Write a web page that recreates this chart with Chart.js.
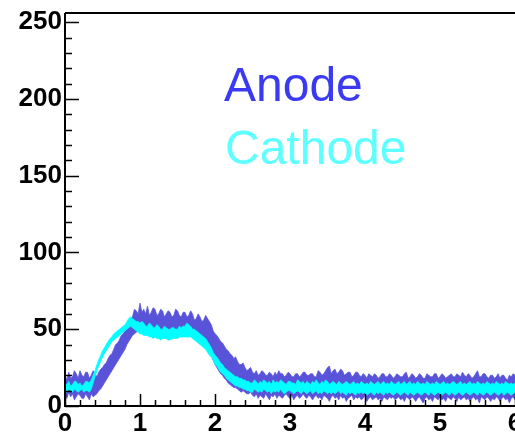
<!DOCTYPE html>
<html>
<head>
<meta charset="utf-8">
<script src="https://cdn.jsdelivr.net/npm/chart.js@4.4.1/dist/chart.umd.min.js"></script>
<style>
  html, body { margin: 0; padding: 0; background: #ffffff; overflow: hidden; }
  #wrap { position: relative; width: 515px; height: 433px; overflow: hidden; }
  canvas { position: absolute; left: 0; top: 0; }
  .tag { position: absolute; font-family: "Liberation Sans", Arial, sans-serif; font-size: 48px; line-height: 48px; white-space: nowrap; }
</style>
</head>
<body>
<div id="wrap">
  <canvas id="c" width="545" height="460"></canvas>
  <div class="tag" id="tagAnode" style="left:224px; top:61px; color:#3a3af2;">Anode</div>
  <div class="tag" id="tagCathode" style="left:225px; top:124px; color:#5effff;">Cathode</div>
</div>
<script>
// Sampling step of the waveforms (time axis units); each row below spans 0.2
const sampleStep = 0.025;

// Anode signal: upper and lower edge of the noisy trace
const anodeHigh = [
  20, 17, 22, 18, 19, 23, 21, 18,
  23, 20, 19, 22, 22, 18, 20, 23,
  21, 19, 22, 24, 25, 27, 28, 31,
  33, 34, 37, 40, 41, 43, 46, 47,
  49, 52, 54, 57, 58, 63, 62, 60,
  67, 61, 63, 60, 65, 59, 61, 64,
  63, 59, 60, 63, 62, 58, 60, 62,
  61, 58, 59, 63, 62, 59, 58, 61,
  61, 58, 59, 62, 60, 56, 57, 60,
  58, 55, 56, 59, 57, 55, 53, 49,
  47, 46, 44, 42, 41, 39, 37, 36,
  34, 33, 31, 32, 29, 27, 27, 28,
  25, 23, 24, 25, 22, 21, 23, 20,
  21, 23, 22, 20, 20, 22, 21, 19,
  22, 20, 23, 21, 21, 19, 20, 22,
  21, 19, 19, 21, 21, 19, 20, 22,
  22, 20, 20, 21, 21, 19, 19, 23,
  22, 20, 21, 23, 25, 26, 21, 23,
  24, 21, 22, 24, 23, 20, 21, 22,
  22, 19, 20, 22, 22, 20, 19, 21,
  20, 18, 21, 20, 19, 21, 20, 18,
  19, 21, 21, 19, 19, 21, 20, 18,
  19, 21, 20, 19, 19, 21, 22, 18,
  19, 21, 20, 18, 19, 21, 20, 18,
  18, 21, 20, 19, 19, 21, 21, 18,
  19, 21, 20, 18, 19, 20, 21, 19,
  19, 21, 20, 19, 22, 20, 19, 21,
  20, 18, 19, 21, 23, 19, 19, 21,
  21, 19, 18, 20, 20, 18, 19, 21,
  18, 20, 20, 18, 17, 20, 19, 21,
  20, 18, 19, 21, 20, 18, 18, 20,
  19, 21, 20, 18, 19, 21, 20, 19
];
const anodeLow = [
  7, 5, 9, 6, 8, 4, 6, 8,
  7, 5, 5, 8, 6, 4, 8, 6,
  7, 8, 10, 11, 13, 15, 17, 19,
  21, 23, 25, 27, 29, 31, 33, 35,
  37, 40, 42, 44, 46, 47, 48, 49,
  49, 49, 49, 48, 48, 49, 49, 48,
  48, 48, 48, 47, 47, 48, 47, 47,
  47, 48, 47, 47, 47, 48, 48, 48,
  48, 48, 48, 48, 47, 46, 45, 44,
  43, 42, 41, 40, 38, 36, 33, 30,
  27, 25, 23, 21, 20, 18, 17, 15,
  14, 13, 12, 12, 11, 10, 9, 10,
  9, 8, 8, 9, 7, 6, 8, 5,
  7, 6, 5, 8, 6, 4, 7, 6,
  8, 5, 7, 6, 5, 7, 8, 6,
  5, 7, 4, 6, 7, 5, 6, 8,
  6, 5, 7, 6, 4, 6, 7, 5,
  6, 4, 7, 6, 5, 3, 6, 7,
  5, 6, 4, 7, 5, 6, 3, 5,
  6, 7, 4, 6, 5, 6, 4, 5,
  7, 3, 5, 6, 4, 5, 6, 4,
  5, 3, 6, 5, 4, 6, 5, 6,
  4, 5, 6, 4, 5, 3, 6, 5,
  4, 6, 5, 3, 5, 6, 4, 2,
  5, 6, 4, 5, 3, 6, 5, 4,
  6, 4, 5, 3, 6, 5, 4, 6,
  5, 3, 6, 4, 5, 6, 4, 5,
  3, 5, 6, 4, 5, 2, 6, 5,
  4, 6, 5, 3, 5, 4, 6, 5,
  3, 5, 6, 4, 5, 2, 5, 6,
  4, 5, 3, 6, 5, 4, 5, 6,
  4, 5, 3, 6, 5, 4, 6, 5
];

// Cathode signal: upper and lower edge of the noisy trace
const cathodeHigh = [
  15, 14, 16, 13, 14, 16, 16, 14,
  15, 13, 14, 16, 16, 15, 17, 20,
  23, 27, 30, 33, 36, 38, 40, 42,
  44, 45, 47, 48, 49, 50, 51, 52,
  53, 55, 57, 58, 57, 56, 55, 55,
  54, 55, 54, 52, 52, 54, 53, 51,
  51, 53, 52, 50, 50, 52, 51, 50,
  50, 51, 51, 50, 50, 52, 51, 52,
  52, 54, 53, 52, 50, 50, 49, 48,
  47, 46, 45, 44, 42, 40, 38, 35,
  33, 32, 30, 28, 27, 25, 24, 23,
  22, 21, 20, 19, 19, 18, 18, 17,
  17, 16, 16, 15, 15, 17, 16, 14,
  16, 15, 17, 16, 15, 16, 14, 17,
  15, 16, 15, 17, 16, 15, 14, 16,
  16, 15, 15, 14, 17, 16, 15, 16,
  14, 16, 15, 14, 16, 15, 17, 15,
  14, 16, 15, 17, 16, 14, 15, 16,
  15, 14, 16, 15, 14, 15, 16, 15,
  14, 15, 16, 14, 15, 14, 16, 15,
  14, 15, 14, 16, 15, 14, 15, 16,
  14, 15, 16, 14, 15, 14, 16, 15,
  14, 15, 16, 14, 15, 16, 14, 15,
  16, 14, 15, 14, 16, 15, 14, 15,
  14, 16, 15, 14, 15, 14, 16, 15,
  14, 15, 16, 14, 15, 14, 15, 16,
  15, 14, 15, 16, 14, 15, 14, 15,
  16, 14, 15, 14, 16, 15, 14, 15,
  14, 16, 15, 14, 15, 14, 16, 15,
  14, 15, 14, 16, 15, 14, 15, 14,
  15, 16, 14, 15, 14, 16, 15, 14,
  15, 14, 16, 15, 14, 15, 14, 15
];
const cathodeLow = [
  10, 9, 11, 10, 9, 11, 10, 9,
  10, 11, 9, 10, 10, 9, 11, 15,
  19, 23, 26, 29, 32, 34, 36, 38,
  40, 42, 43, 44, 45, 46, 47, 48,
  49, 50, 51, 52, 51, 50, 49, 48,
  47, 47, 46, 46, 46, 45, 45, 44,
  45, 44, 44, 43, 44, 44, 44, 43,
  43, 44, 44, 44, 44, 45, 45, 45,
  45, 45, 45, 45, 44, 43, 42, 41,
  40, 39, 38, 37, 35, 33, 32, 30,
  27, 26, 24, 22, 21, 20, 18, 17,
  16, 15, 14, 13, 13, 12, 12, 11,
  11, 10, 10, 9, 9, 11, 10, 9,
  10, 9, 11, 10, 9, 10, 8, 10,
  9, 10, 9, 11, 9, 8, 9, 10,
  10, 9, 8, 9, 10, 9, 8, 10,
  9, 8, 9, 10, 8, 9, 10, 8,
  9, 8, 10, 9, 8, 9, 8, 9,
  8, 9, 10, 8, 9, 8, 7, 9,
  8, 9, 8, 7, 9, 8, 9, 8,
  9, 7, 8, 9, 8, 7, 9, 8,
  9, 8, 7, 9, 8, 9, 8, 7,
  8, 9, 8, 7, 8, 9, 8, 7,
  9, 8, 7, 8, 9, 8, 7, 8,
  9, 8, 7, 9, 8, 7, 8, 9,
  8, 7, 8, 9, 8, 7, 9, 8,
  7, 8, 9, 8, 7, 8, 9, 8,
  7, 8, 9, 8, 7, 9, 8, 7,
  8, 9, 8, 7, 8, 9, 8, 7,
  8, 9, 7, 8, 9, 8, 7, 8,
  9, 8, 7, 8, 9, 8, 7, 8,
  9, 8, 7, 8, 8, 9, 7, 8
];

// Axis labels
const yTickValues = [0, 50, 100, 150, 200, 250];
const xTickValues = [0, 1, 2, 3, 4, 5, 6];

const anodeColor = '#5953d9';
const cathodeColor = '#00ffff';

function toPoints(values) {
  return values.map((v, i) => ({ x: +(i * sampleStep).toFixed(3), y: v }));
}

function band(values, color, fillTarget) {
  return {
    data: toPoints(values),
    borderColor: color,
    backgroundColor: color,
    borderWidth: 0.8,
    pointRadius: 0,
    tension: 0,
    fill: fillTarget
  };
}

// ROOT-style frame with inward major/minor tick marks
const framePlugin = {
  id: 'frame',
  afterDraw(chart) {
    const { ctx, chartArea: a, scales } = chart;
    const xs = scales.x, ys = scales.y;
    ctx.save();
    ctx.strokeStyle = '#000000';
    ctx.lineWidth = 1.5;
    ctx.beginPath();
    for (let k = 0; k <= 32; k++) {
      const v = k * 0.2;
      if (v > xs.max) break;
      const px = Math.round(xs.getPixelForValue(v)) + 0.5;
      const len = (k % 5 === 0) ? 12 : 6;
      ctx.moveTo(px, a.bottom);
      ctx.lineTo(px, a.bottom - len);
    }
    for (let k = 0; k <= 25; k++) {
      const v = k * 10;
      const py = Math.round(ys.getPixelForValue(v)) + 0.5;
      const len = (k % 5 === 0) ? 14 : 7;
      ctx.moveTo(a.left, py);
      ctx.lineTo(a.left + len, py);
    }
    ctx.stroke();
    ctx.lineWidth = 2;
    ctx.beginPath();
    ctx.moveTo(a.left, a.top);
    ctx.lineTo(a.right, a.top);
    ctx.moveTo(a.left, a.top);
    ctx.lineTo(a.left, a.bottom);
    ctx.lineTo(a.right, a.bottom);
    ctx.stroke();
    ctx.restore();
  }
};

const tickFont = { family: '"Liberation Sans", Arial, sans-serif', size: 26, weight: 'bold' };

new Chart(document.getElementById('c'), {
  type: 'line',
  data: {
    datasets: [
      band(cathodeLow, cathodeColor, false),
      band(cathodeHigh, cathodeColor, '-1'),
      band(anodeLow, anodeColor, false),
      band(anodeHigh, anodeColor, '-1')
    ]
  },
  options: {
    responsive: false,
    animation: false,
    events: [],
    layout: { padding: { top: 13, right: 0, left: 0, bottom: 0 } },
    plugins: { legend: { display: false }, tooltip: { enabled: false } },
    scales: {
      x: {
        type: 'linear',
        min: 0,
        max: 6.4,
        grid: { display: false, drawTicks: false },
        border: { display: false },
        afterBuildTicks: (s) => { s.ticks = xTickValues.map(v => ({ value: v })); },
        afterFit: (s) => { s.height = 54; s.paddingLeft = 0; s.paddingRight = 0; },
        ticks: { color: '#000000', font: tickFont, padding: 2, maxRotation: 0, autoSkip: false }
      },
      y: {
        min: 0,
        max: 256,
        grid: { display: false, drawTicks: false },
        border: { display: false },
        afterBuildTicks: (s) => { s.ticks = yTickValues.map(v => ({ value: v })); },
        afterFit: (s) => { s.width = 65; s.paddingTop = 0; s.paddingBottom = 0; },
        ticks: { color: '#000000', font: tickFont, padding: 3, autoSkip: false }
      }
    }
  },
  plugins: [framePlugin]
});
</script>
</body>
</html>
